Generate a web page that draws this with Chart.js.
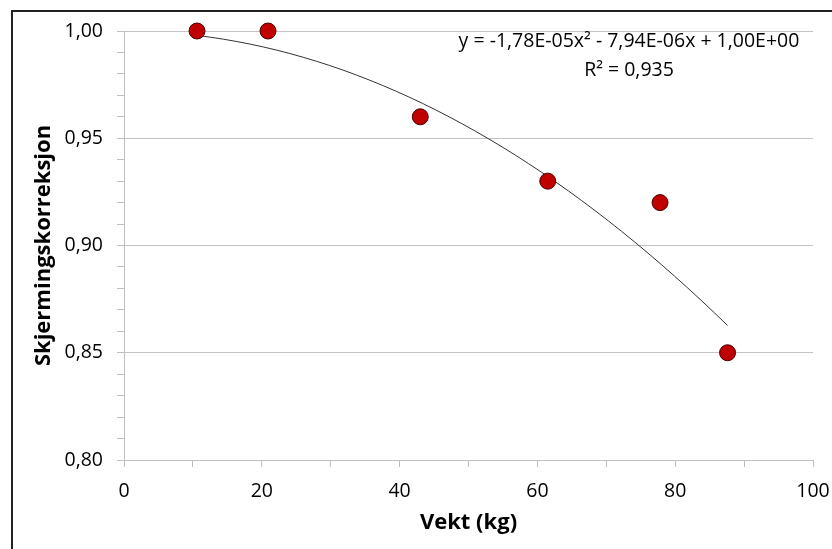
<!DOCTYPE html>
<html>
<head>
<meta charset="utf-8">
<script src="https://cdn.jsdelivr.net/npm/chart.js@4.4.0/dist/chart.umd.min.js"></script>
<style>
  html, body { margin: 0; padding: 0; background: #fff; }
  #wrap { width: 832px; height: 549px; }
</style>
</head>
<body>
<div id="wrap"><canvas id="graf"></canvas></div>
<script>
// maalte punkter
var vekt = [10.6, 20.9, 43.0, 61.5, 77.8, 87.6];
var korreksjon = [1.00, 1.00, 0.96, 0.93, 0.92, 0.85];

// trendlinje (polynom, 2. grad) slik den star i diagrammet
var koeff = [1.00E+00, -7.94E-06, -1.78E-05]; // a0, a1, a2
var likningTekst = ["y = -1,78E-05x\u00b2 - 7,94E-06x + 1,00E+00", "R\u00b2 = 0,935"];

var trend = [];
for (var i = 0; i <= 40; i++) {
    var x = vekt[0] + (vekt[vekt.length - 1] - vekt[0]) * i / 40;
    trend.push({ x: x, y: koeff[0] + koeff[1] * x + koeff[2] * x * x });
}

var punkter = vekt.map(function (v, i) { return { x: v, y: korreksjon[i] }; });

var fontNavn = "'Open Sans', sans-serif";

var ramme = {
    id: 'ramme',
    afterDraw: function (chart) {
        var c = chart.ctx;
        c.save();
        c.strokeStyle = '#222';
        c.lineWidth = 2;
        c.beginPath();
        c.moveTo(12, 560);
        c.lineTo(12, 11);
        c.lineTo(840, 11);
        c.stroke();

        c.fillStyle = '#000';
        c.textAlign = 'center';
        c.textBaseline = 'middle';
        c.font = "19.5px " + fontNavn;
        c.fillText(likningTekst[0], 629, 41);
        c.fillText(likningTekst[1], 629, 70);
        c.restore();
    }
};

var ctx = document.getElementById("graf").getContext("2d");
var myChart = new Chart(ctx, {
    type: 'scatter',
    data: {
        datasets: [{
            label: 'Skjermingskorreksjon',
            data: punkter,
            backgroundColor: '#C00000',
            borderColor: '#4a0000',
            borderWidth: 1,
            pointRadius: 8,
            pointHoverRadius: 8,
            order: 0
        }, {
            type: 'line',
            label: 'Trend',
            data: trend,
            borderColor: '#333',
            borderWidth: 1,
            pointRadius: 0,
            fill: false,
            tension: 0,
            order: 1
        }]
    },
    options: {
        responsive: true,
        maintainAspectRatio: false,
        animation: false,
        layout: { autoPadding: false, padding: { top: 31, right: 19, left: 0, bottom: 0 } },
        plugins: {
            legend: { display: false },
            tooltip: { enabled: false }
        },
        scales: {
            x: {
                type: 'linear',
                min: 0,
                max: 100,
                afterFit: function (s) { s.height = 89; s.paddingLeft = 0; s.paddingRight = 0; },
                border: { color: '#bfbfbf', width: 1 },
                grid: { drawOnChartArea: false, tickLength: 7, tickColor: '#bfbfbf' },
                ticks: {
                    stepSize: 10,
                    autoSkip: false,
                    maxRotation: 0,
                    padding: 13,
                    color: '#000',
                    font: { family: fontNavn, size: 19.5 },
                    callback: function (v) { return Math.round(v) % 20 === 0 ? String(Math.round(v)) : ''; }
                },
                title: {
                    display: true,
                    text: 'Vekt (kg)',
                    color: '#000',
                    font: { family: fontNavn, size: 22, weight: 'bold' },
                    padding: { top: 0, bottom: 13 }
                }
            },
            y: {
                min: 0.8,
                max: 1.0,
                afterFit: function (s) { s.width = 124; s.paddingTop = 0; s.paddingBottom = 0; },
                border: { color: '#bfbfbf', width: 1 },
                grid: {
                    tickLength: 7,
                    tickColor: '#bfbfbf',
                    color: function (c) {
                        return Math.round(c.tick.value * 100) % 5 === 0 ? '#c4c4c4' : 'rgba(0,0,0,0)';
                    }
                },
                ticks: {
                    stepSize: 0.01,
                    autoSkip: false,
                    padding: 14,
                    color: '#000',
                    font: { family: fontNavn, size: 19.5 },
                    callback: function (v) {
                        return Math.round(v * 100) % 5 === 0 ? v.toFixed(2).replace('.', ',') : '';
                    }
                },
                title: {
                    display: true,
                    text: 'Skjermingskorreksjon',
                    color: '#000',
                    font: { family: fontNavn, size: 22, weight: 'bold' },
                    padding: { top: 31, bottom: 0 }
                }
            }
        },
        elements: { point: { hitRadius: 0 } },
        clip: false
    },
    plugins: [ramme]
});
</script>
</body>
</html>
